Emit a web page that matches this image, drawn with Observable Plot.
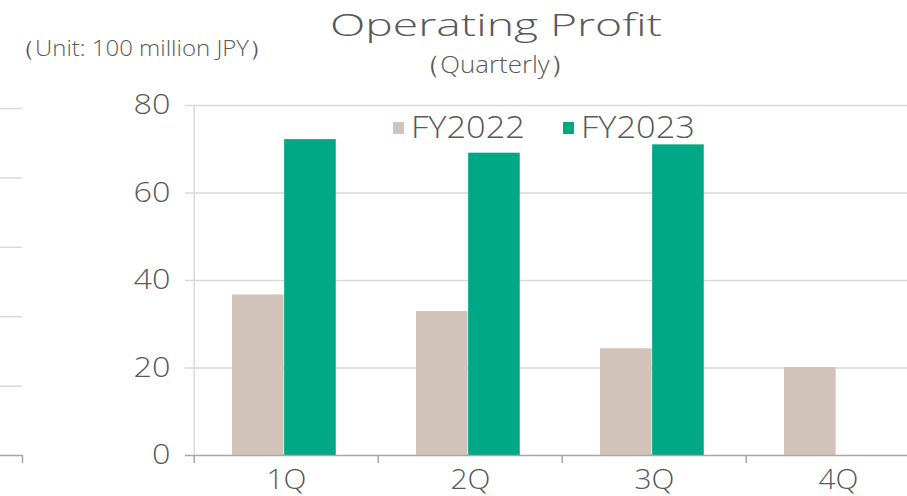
<!DOCTYPE html>
<html>
<head>
<meta charset="utf-8">
<script src="https://cdn.jsdelivr.net/npm/d3@7"></script>
<script src="https://cdn.jsdelivr.net/npm/@observablehq/plot@0.6"></script>
<style>
  html, body { margin: 0; padding: 0; background: #fff; }
  #wrap { position: relative; width: 907px; height: 496px; overflow: hidden; font-family: "Open Sans", sans-serif; font-weight: 350; color: #595959; }
  #wrap svg { position: absolute; top: 0; left: 0; overflow: visible; max-width: none; }
  .abs { position: absolute; white-space: nowrap; line-height: 1; transform-origin: 0 0; }
  #unit { left: 11px; top: 36px; font-size: 22px; }
  #title { left: 330px; top: 9px; font-size: 31px; }
  #subtitle { left: 414px; top: 52px; font-size: 24.5px; }
  #legend { left: 393px; top: 111px; font-size: 31px; }
  .sw { position: absolute; width: 11px; height: 12px; top: 11px; }
  .lt { position: absolute; top: 0; transform-origin: 0 0; white-space: nowrap; }
</style>
</head>
<body>
<div id="wrap">
  <div id="plots"></div>
  <div id="unit" class="abs">（Unit: 100 million JPY）</div>
  <div id="title" class="abs">Operating Profit</div>
  <div id="subtitle" class="abs">（Quarterly）</div>
  <div id="legend" class="abs"></div>
</div>
<script>
const quarters = ["1Q", "2Q", "3Q", "4Q"];
const seriesNames = ["FY2022", "FY2023"];
const seriesColors = ["#D2C3BA", "#00A886"];
const fy2022 = [36.7, 32.9, 24.4, 20.1];
const fy2023 = [72.2, 69.1, 71.0, null];
const yTicks = [0, 20, 40, 60, 80];
const neighbourTicks = [0, 100, 200, 300, 400, 500];

const rows = quarters.flatMap((q, i) => [
  {quarter: q, series: seriesNames[0], value: fy2022[i]},
  {quarter: q, series: seriesNames[1], value: fy2023[i]}
]).filter(d => d.value != null);

const W = 931, ML = 193, MR = 0;
const step = (W - ML - MR) / quarters.length;
const groupPadL = step * 0.206;
const barW = step * 0.2825;

const textColor = "#595959";
const gridColor = "#D9D9D9";
const axisColor = "#A6A6A6";

const main = Plot.plot({
  width: W,
  height: 496,
  marginLeft: ML,
  marginRight: MR,
  marginTop: 105,
  marginBottom: 41,
  style: {fontFamily: "Open Sans, sans-serif", fontWeight: 350, fontSize: "28px", color: textColor, background: "transparent", maxWidth: "none"},
  x: {domain: quarters, padding: 0, axis: null},
  y: {domain: [0, 80], axis: null},
  color: {domain: seriesNames, range: seriesColors},
  marks: [
    Plot.ruleY(yTicks.filter(t => t > 0), {y: d => d, stroke: gridColor, strokeWidth: 1.5, insetLeft: -8}),
    Plot.ruleX([quarters[0]], {x: d => d, dx: -step / 2, stroke: gridColor, strokeWidth: 1.5}),
    Plot.barY(rows.filter(d => d.series === seriesNames[0]), {
      x: "quarter", y: "value", fill: "series",
      insetLeft: groupPadL, insetRight: step - groupPadL - barW
    }),
    Plot.barY(rows.filter(d => d.series === seriesNames[1]), {
      x: "quarter", y: "value", fill: "series",
      insetLeft: groupPadL + barW, insetRight: step - groupPadL - 2 * barW
    }),
    Plot.ruleY([0], {stroke: axisColor, strokeWidth: 1.5, insetLeft: -8}),
    Plot.ruleX(quarters, {x: d => d, y1: 0, y2: 0, dx: -step / 2, stroke: axisColor, strokeWidth: 1.5, insetBottom: -8}),
    Plot.axisY(yTicks, {label: null, tickSize: 0, tickPadding: 23, fill: textColor, fontSize: 28}),
    Plot.axisX({label: null, tickSize: 0, tickPadding: 14, fill: textColor, fontSize: 28})
  ]
});

const neighbour = Plot.plot({
  width: 23,
  height: 496,
  marginLeft: 0,
  marginRight: 1,
  marginTop: 108,
  marginBottom: 41,
  style: {background: "transparent", maxWidth: "none"},
  x: {domain: [0, 1], axis: null},
  y: {domain: [0, 500], axis: null},
  marks: [
    Plot.ruleY(neighbourTicks.filter(t => t > 0), {y: d => d, stroke: gridColor, strokeWidth: 1.5}),
    Plot.ruleY([0], {y: d => d, stroke: axisColor, strokeWidth: 1.5}),
    Plot.ruleX([1], {x: d => d, y1: 0, y2: 0, stroke: axisColor, strokeWidth: 1.5, insetBottom: -8})
  ]
});

const host = document.getElementById("plots");
host.appendChild(main);
host.appendChild(neighbour);

// horizontal stretch of HTML text to match the reference widths
function stretch(el, target) {
  el.style.transform = "none";
  const w = el.getBoundingClientRect().width;
  el.style.transform = `scaleX(${target / w})`;
}

// legend
const legend = document.getElementById("legend");
const legendOffsets = [0, 170];
seriesNames.forEach((name, i) => {
  const sw = document.createElement("span");
  sw.className = "sw";
  sw.style.left = legendOffsets[i] + "px";
  sw.style.background = seriesColors[i];
  legend.appendChild(sw);
  const t = document.createElement("span");
  t.className = "lt";
  t.style.left = (legendOffsets[i] + 18) + "px";
  t.textContent = name;
  legend.appendChild(t);
  stretch(t, 114);
});
stretch(document.getElementById("unit"), 262);
stretch(document.getElementById("title"), 332);
stretch(document.getElementById("subtitle"), 162);

// horizontal stretch of SVG tick labels around their anchor
function stretchSvg(texts, refText, targetWidth, anchor) {
  const ref = texts.find(t => t.textContent === refText) || texts[0];
  if (!ref) return;
  const s = targetWidth / ref.getBBox().width;
  texts.forEach(t => {
    const b = t.getBBox();
    const ax = anchor === "end" ? b.x + b.width : b.x + b.width / 2;
    const prev = t.getAttribute("transform") || "";
    t.setAttribute("transform", `${prev} translate(${ax},0) scale(${s},1) translate(${-ax},0)`);
  });
}
const ytexts = Array.from(main.querySelectorAll('g[aria-label="y-axis tick label"] text'));
stretchSvg(ytexts, "80", 37, "end");
const xtexts = Array.from(main.querySelectorAll('g[aria-label="x-axis tick label"] text'));
stretchSvg(xtexts, "1Q", 40, "middle");
</script>
</body>
</html>
